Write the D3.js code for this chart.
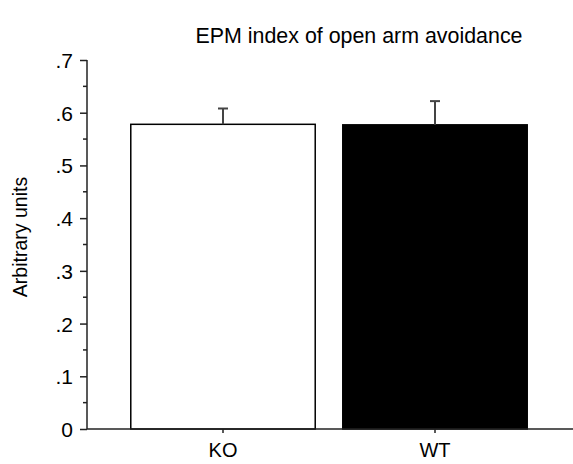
<!DOCTYPE html>
<html><head><meta charset="utf-8">
<script src="https://cdn.jsdelivr.net/npm/d3@7/dist/d3.min.js"></script>
<style>body{margin:0;background:#fff}svg{display:block}text{font-family:"Liberation Sans",Arial,sans-serif;fill:#000}</style>
</head><body>
<script>
const categories = ["KO", "WT"];
const means = [0.578, 0.577];
const errors = [0.030, 0.045];
const fills = ["#ffffff", "#000000"];
const yTicks = [0, 0.1, 0.2, 0.3, 0.4, 0.5, 0.6, 0.7];
const yTickLabels = ["0", ".1", ".2", ".3", ".4", ".5", ".6", ".7"];
const minorTicks = [0.05, 0.15, 0.25, 0.35, 0.45, 0.55, 0.65];

(function () {
const W = 573, H = 464;
const svg = d3.select("body").append("svg").attr("width", W).attr("height", H);
const mLeft = 87, mBottom = 429, mTop = 60;
const y = d3.scaleLinear().domain([0, 0.7]).range([mBottom, mTop]);
const x = d3.scaleBand().domain(categories).range([117, 541]).paddingInner(0.13).paddingOuter(0.065);

// bars
svg.selectAll("rect.bar").data(categories).enter().append("rect")
  .attr("x", d => x(d)).attr("width", x.bandwidth())
  .attr("y", (d, i) => y(means[i])).attr("height", (d, i) => mBottom - y(means[i]))
  .attr("fill", (d, i) => fills[i]).attr("stroke", "#000").attr("stroke-width", 1.5);

// error bars
const eb = svg.append("g").attr("stroke", "#444").attr("stroke-width", 2);
categories.forEach((c, i) => {
  const cx = x(c) + x.bandwidth() / 2;
  eb.append("line").attr("x1", cx).attr("x2", cx).attr("y1", y(means[i])).attr("y2", y(means[i] + errors[i]));
  eb.append("line").attr("x1", cx - 5).attr("x2", cx + 5).attr("y1", y(means[i] + errors[i])).attr("y2", y(means[i] + errors[i]));
});

// y axis
const ya = svg.append("g").attr("transform", `translate(${mLeft},0)`);
ya.call(d3.axisLeft(y).tickValues(yTicks).tickFormat((d, i) => yTickLabels[i]).tickSize(7).tickPadding(7));
ya.attr("font-size", null).attr("font-family", null);
ya.select(".domain").attr("stroke", "#222").attr("stroke-width", 1.5).attr("d", `M0,${mBottom}V${mTop}`);
ya.selectAll(".tick line").attr("stroke", "#222").attr("stroke-width", 1.5);
ya.selectAll(".tick text").style("font-size", "21px").attr("dy", "0.36em");
ya.selectAll("line.minor").data(minorTicks).enter().append("line").attr("class", "minor")
  .attr("x1", -4).attr("x2", 0).attr("y1", d => y(d)).attr("y2", d => y(d))
  .attr("stroke", "#222").attr("stroke-width", 1.5);

// x axis
const xa = svg.append("g").attr("transform", `translate(0,${mBottom})`);
xa.append("line").attr("x1", mLeft).attr("x2", W).attr("y1", 0).attr("y2", 0).attr("stroke", "#222").attr("stroke-width", 1.5);
xa.selectAll("line.xt").data(categories).enter().append("line").attr("class", "xt")
  .attr("x1", d => x(d) + x.bandwidth() / 2).attr("x2", d => x(d) + x.bandwidth() / 2)
  .attr("y1", 0).attr("y2", 4).attr("stroke", "#222").attr("stroke-width", 1.5);
xa.selectAll("text.xl").data(categories).enter().append("text").attr("class", "xl")
  .attr("x", d => x(d) + x.bandwidth() / 2).attr("y", 28).attr("text-anchor", "middle")
  .style("font-size", "20px").text(d => d);

// title
svg.append("text").attr("x", 359).attr("y", 43).attr("text-anchor", "middle").style("font-size", "21.4px").text("EPM index of open arm avoidance");
// y label
svg.append("text").attr("transform", "translate(27,237) rotate(-90)").attr("text-anchor", "middle").style("font-size", "19.5px").text("Arbitrary units");
})();
</script>
</body></html>
